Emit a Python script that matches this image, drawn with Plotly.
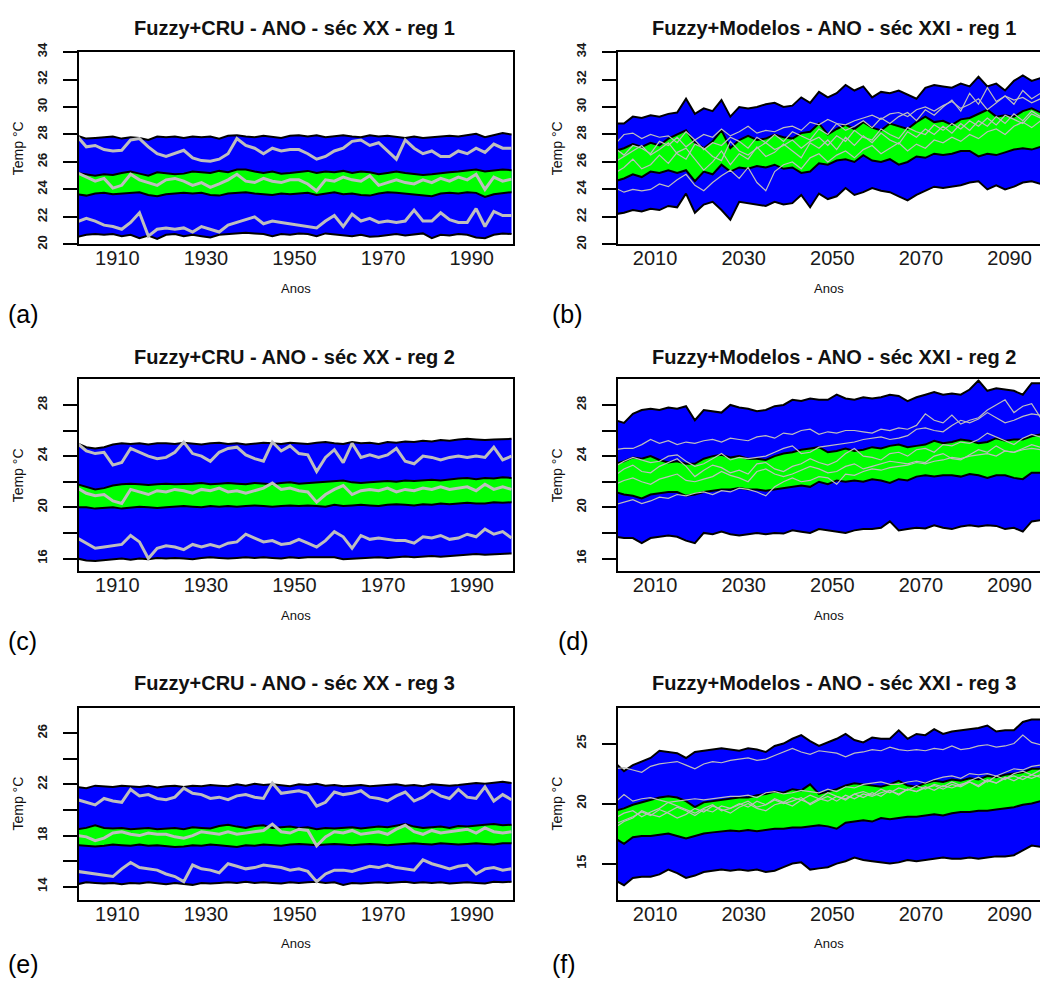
import plotly.graph_objects as go

# ---------------- data (2-year steps) ----------------
YEARS_20 = list(range(1901, 2000, 2))
YEARS_21 = list(range(2001, 2100, 2))

TICKS_20 = [1910, 1930, 1950, 1970, 1990]
TICKS_21 = [2010, 2030, 2050, 2070, 2090]

TITLES = ["Fuzzy+CRU - ANO - séc XX - reg 1", "Fuzzy+Modelos - ANO - séc XXI - reg 1",
          "Fuzzy+CRU - ANO - séc XX - reg 2", "Fuzzy+Modelos - ANO - séc XXI - reg 2",
          "Fuzzy+CRU - ANO - séc XX - reg 3", "Fuzzy+Modelos - ANO - séc XXI - reg 3"]
LETTERS = ["(a)", "(b)", "(c)", "(d)", "(e)", "(f)"]

# panel (a)
BU_a = [27.9, 27.7, 27.75, 27.8, 27.85, 27.7, 27.8, 27.75, 27.6, 27.85,
        27.8, 27.85, 27.75, 27.85, 27.8, 27.85, 27.7, 27.9, 27.95, 27.85,
        27.8, 27.9, 27.85, 27.75, 27.9, 27.95, 27.85, 27.95, 27.8, 27.9,
        27.95, 27.85, 27.8, 27.95, 27.85, 27.9, 27.8, 27.75, 27.85, 27.75,
        27.8, 27.85, 27.9, 27.85, 27.95, 28.05, 27.8, 27.95, 28.1, 28.0]
GU_a = [25.2, 25.1, 25.0, 25.1, 25.05, 25.2, 25.3, 25.15, 25.0, 25.25,
        25.2, 25.1, 25.15, 25.3, 25.25, 25.2, 25.35, 25.25, 25.45, 25.45,
        25.3, 25.2, 25.3, 25.15, 25.2, 25.3, 25.35, 25.2, 25.3, 25.25,
        25.35, 25.2, 25.3, 25.25, 25.1, 25.2, 25.3, 25.2, 25.1, 25.05,
        25.1, 25.2, 25.25, 25.3, 25.35, 25.45, 25.3, 25.4, 25.45, 25.4]
GL_a = [23.65, 23.55, 23.7, 23.75, 23.65, 23.7, 23.75, 23.8, 23.6, 23.5,
        23.65, 23.7, 23.75, 23.7, 23.75, 23.6, 23.55, 23.7, 23.75, 23.8,
        23.7, 23.65, 23.6, 23.7, 23.65, 23.7, 23.75, 23.6, 23.7, 23.8,
        23.65, 23.7, 23.6, 23.55, 23.7, 23.8, 23.75, 23.7, 23.65, 23.6,
        23.5, 23.7, 23.75, 23.7, 23.8, 23.75, 23.45, 23.65, 23.75, 23.8]
BL_a = [20.55, 20.7, 20.75, 20.7, 20.75, 20.6, 20.7, 20.45, 20.65, 20.4,
        20.7, 20.75, 20.6, 20.7, 20.6, 20.5, 20.7, 20.75, 20.8, 20.85,
        20.8, 20.75, 20.6, 20.75, 20.7, 20.8, 20.75, 20.6, 20.8, 20.75,
        20.7, 20.6, 20.7, 20.55, 20.6, 20.7, 20.75, 20.65, 20.7, 20.8,
        20.45, 20.7, 20.65, 20.75, 20.7, 20.5, 20.45, 20.7, 20.8, 20.75]
GY1_a = [27.85, 27.1, 27.2, 26.9, 26.8, 26.85, 27.6, 27.7, 27.1, 26.6,
         26.4, 26.6, 26.85, 26.3, 26.1, 26.05, 26.2, 26.6, 27.7, 27.2,
         27.0, 26.6, 27.0, 26.8, 26.9, 26.9, 26.6, 26.2, 26.4, 26.8,
         27.0, 27.5, 27.6, 27.2, 27.4, 26.8, 26.2, 27.6, 27.0, 26.6,
         26.8, 26.4, 26.4, 26.8, 26.6, 27.0, 26.7, 27.3, 27.0, 27.0]
GY2_a = [25.2, 24.9, 24.6, 24.8, 24.1, 24.3, 25.1, 24.7, 24.5, 24.3,
         24.7, 24.8, 24.6, 24.3, 24.5, 24.15, 24.4, 24.7, 25.1, 24.6,
         24.5, 24.8, 24.6, 24.5, 24.7, 24.7, 24.4, 23.9, 24.7, 24.6,
         24.9, 24.7, 24.6, 25.0, 24.3, 24.5, 24.7, 24.5, 24.4, 24.7,
         24.5, 24.8, 24.6, 24.9, 24.7, 25.1, 24.0, 24.9, 24.6, 24.75]
GY3_a = [21.65, 21.9, 21.7, 21.4, 21.3, 21.1, 21.6, 22.3, 20.6, 21.1,
         21.2, 21.1, 21.2, 20.9, 21.3, 21.1, 20.9, 21.4, 21.6, 21.8,
         22.0, 21.5, 21.7, 21.6, 21.5, 21.4, 21.3, 21.2, 21.7, 22.1,
         21.3, 22.2, 21.7, 21.9, 21.6, 21.7, 21.6, 21.7, 22.5, 21.7,
         21.7, 22.3, 21.8, 21.6, 21.6, 22.6, 21.3, 22.4, 22.1, 22.1]

# panel (c)
BU_c = [25.0, 24.7, 24.6, 24.7, 24.9, 25.0, 24.95, 25.0, 24.9, 25.0,
        25.0, 24.95, 25.05, 25.0, 24.9, 25.0, 25.05, 24.95, 25.0, 24.9,
        25.0, 25.05, 25.0, 24.95, 25.05, 25.0, 24.95, 25.05, 25.1, 25.0,
        24.95, 25.1, 25.0, 25.05, 24.95, 25.1, 25.05, 25.15, 25.1, 25.2,
        25.15, 25.25, 25.2, 25.3, 25.35, 25.3, 25.25, 25.3, 25.35, 25.35]
GU_c = [21.8, 21.6, 21.4, 21.5, 21.7, 21.8, 21.85, 21.8, 21.75, 21.8,
        21.85, 21.8, 21.8, 21.85, 21.9, 21.8, 21.85, 21.9, 21.85, 21.8,
        21.9, 21.85, 21.8, 21.9, 21.95, 21.85, 21.9, 21.95, 22.0, 22.05,
        22.1, 21.95, 21.9, 21.95, 22.0, 22.05, 22.0, 22.1, 22.05, 22.1,
        22.15, 22.1, 22.2, 22.25, 22.3, 22.2, 22.3, 22.25, 22.35, 22.3]
GL_c = [20.0, 20.0, 19.9, 19.95, 20.0, 19.9, 20.0, 20.05, 20.0, 19.95,
        20.0, 20.05, 20.1, 20.05, 20.0, 20.1, 20.05, 20.1, 20.05, 20.1,
        20.15, 20.1, 20.05, 20.1, 20.15, 20.1, 20.15, 20.1, 20.05, 20.2,
        20.1, 20.15, 20.2, 20.15, 20.1, 20.2, 20.25, 20.2, 20.15, 20.25,
        20.2, 20.3, 20.25, 20.3, 20.35, 20.3, 20.3, 20.4, 20.35, 20.4]
BL_c = [16.0, 15.85, 15.8, 15.85, 15.95, 16.0, 15.9, 16.0, 15.95, 16.05,
        16.0, 16.05, 16.0, 15.95, 16.05, 16.1, 16.05, 16.0, 16.05, 16.1,
        16.05, 16.1, 16.05, 16.0, 16.1, 16.05, 16.1, 16.1, 16.05, 16.1,
        15.95, 16.0, 16.05, 16.1, 16.1, 16.05, 16.1, 16.15, 16.1, 16.15,
        16.2, 16.15, 16.2, 16.25, 16.3, 16.35, 16.3, 16.35, 16.4, 16.4]
GY1_c = [25.0, 24.4, 24.2, 24.3, 23.3, 23.5, 24.6, 24.3, 24.0, 23.8,
         23.9, 24.3, 25.1, 24.2, 24.0, 23.6, 24.3, 24.6, 24.7, 24.1,
         23.8, 23.6, 25.1, 24.4, 24.8, 24.2, 24.1, 22.8, 23.9, 24.5,
         23.5, 25.0, 23.9, 24.1, 23.9, 24.1, 24.6, 23.6, 23.4, 24.0,
         23.9, 23.7, 23.9, 24.0, 23.9, 24.0, 23.9, 24.7, 23.7, 24.0]
GY2_c = [21.5, 21.1, 20.9, 21.0, 20.5, 20.3, 21.4, 21.2, 21.0, 21.3,
         21.2, 21.4, 21.3, 21.1, 21.4, 21.3, 21.5, 21.2, 21.3, 21.1,
         21.3, 21.5, 21.9, 21.4, 21.5, 21.3, 21.2, 20.4, 21.0, 21.4,
         21.7, 21.0, 21.3, 21.4, 21.3, 21.5, 21.2, 21.4, 21.3, 21.5,
         21.4, 21.6, 21.4, 21.5, 21.6, 21.3, 21.8, 21.4, 21.6, 21.4]
GY3_c = [17.6, 17.2, 16.8, 16.9, 17.0, 17.1, 17.8, 17.3, 16.0, 16.8,
         17.0, 16.9, 16.7, 17.1, 16.9, 17.1, 16.9, 17.2, 17.3, 17.9,
         17.6, 17.3, 17.4, 17.1, 17.2, 17.5, 17.2, 16.9, 17.4, 18.1,
         17.7, 16.8, 17.8, 17.5, 17.6, 17.5, 17.4, 17.4, 17.2, 17.7,
         17.6, 17.8, 17.5, 17.6, 17.9, 17.7, 18.3, 17.9, 18.1, 17.6]

# panel (e)
BU_e = [21.8, 21.7, 21.9, 21.85, 21.8, 21.9, 21.85, 21.8, 21.9, 21.75,
        21.85, 21.9, 21.8, 21.9, 21.85, 21.95, 21.9, 21.85, 22.0, 21.9,
        22.05, 21.95, 22.0, 21.9, 21.85, 22.0, 21.95, 22.05, 21.9, 21.95,
        21.85, 21.9, 21.95, 21.85, 21.9, 21.95, 22.0, 21.9, 21.95, 21.85,
        22.0, 21.95, 21.9, 21.95, 22.0, 22.1, 22.05, 22.15, 22.2, 22.1]
GU_e = [18.5, 18.6, 18.8, 18.6, 18.55, 18.6, 18.5, 18.55, 18.6, 18.5,
        18.55, 18.6, 18.5, 18.65, 18.6, 18.55, 18.75, 18.85, 18.7, 18.6,
        18.75, 18.8, 18.6, 18.65, 18.7, 18.6, 18.65, 18.5, 18.6, 18.55,
        18.6, 18.65, 18.55, 18.6, 18.7, 18.65, 18.8, 18.9, 18.7, 18.6,
        18.65, 18.7, 18.6, 18.75, 18.7, 18.8, 18.85, 18.9, 18.8, 18.85]
GL_e = [17.25, 17.2, 17.15, 17.2, 17.3, 17.25, 17.2, 17.3, 17.2, 17.25,
        17.2, 17.1, 17.15, 17.25, 17.2, 17.3, 17.25, 17.2, 17.1, 17.25,
        17.2, 17.3, 17.25, 17.2, 17.3, 17.35, 17.3, 17.25, 17.3, 17.35,
        17.3, 17.25, 17.3, 17.35, 17.3, 17.25, 17.3, 17.35, 17.4, 17.35,
        17.3, 17.4, 17.35, 17.3, 17.35, 17.4, 17.35, 17.3, 17.4, 17.4]
BL_e = [14.2, 14.35, 14.3, 14.25, 14.3, 14.2, 14.3, 14.25, 14.35, 14.3,
        14.2, 14.3, 14.25, 14.15, 14.3, 14.25, 14.3, 14.35, 14.3, 14.4,
        14.3, 14.35, 14.3, 14.25, 14.35, 14.3, 14.35, 14.4, 14.3, 14.35,
        14.15, 14.3, 14.25, 14.3, 14.35, 14.3, 14.35, 14.4, 14.3, 14.35,
        14.3, 14.35, 14.25, 14.3, 14.35, 14.3, 14.25, 14.4, 14.35, 14.4]
GY1_e = [20.8, 20.6, 20.4, 20.9, 20.7, 20.6, 21.6, 21.1, 21.2, 20.9,
         20.8, 21.0, 21.7, 21.3, 21.2, 20.9, 21.0, 20.8, 21.1, 21.2,
         21.0, 20.9, 22.1, 21.3, 21.4, 21.5, 21.3, 20.3, 20.6, 21.4,
         21.2, 21.3, 21.5, 21.0, 20.9, 20.7, 21.1, 21.4, 20.7, 21.0,
         21.5, 21.1, 20.9, 21.6, 21.0, 20.9, 21.8, 20.7, 21.2, 20.8]
GY2_e = [18.0, 17.9, 17.6, 17.8, 18.2, 18.3, 18.1, 18.0, 18.2, 18.1,
         18.1, 17.9, 17.8, 18.0, 18.3, 18.2, 18.1, 18.3, 18.1, 18.2,
         18.3, 18.4, 18.9, 18.3, 18.2, 18.5, 18.4, 17.2, 17.9, 18.3,
         18.2, 18.4, 18.1, 18.2, 18.3, 18.1, 18.5, 18.8, 18.3, 18.1,
         18.4, 18.2, 18.3, 18.4, 18.5, 18.2, 18.6, 18.3, 18.2, 18.3]
GY3_e = [15.2, 15.1, 15.0, 14.9, 14.8, 15.4, 15.9, 15.5, 15.4, 15.3,
         15.0, 14.8, 14.4, 15.7, 15.4, 15.3, 15.1, 15.8, 15.6, 15.4,
         15.5, 15.7, 15.6, 15.5, 15.3, 15.4, 15.2, 14.4, 15.0, 15.3,
         15.3, 15.2, 15.4, 15.6, 15.5, 15.7, 15.5, 15.4, 15.3, 16.1,
         15.8, 15.6, 15.4, 15.6, 15.7, 15.0, 15.4, 15.5, 15.3, 15.4]

# panel (b)
BU_b = [28.8, 28.8, 29.3, 29.2, 29.4, 29.3, 29.5, 29.6, 30.6, 29.5,
        29.9, 29.7, 30.5, 29.3, 30.0, 29.9, 30.0, 30.2, 30.3, 30.0,
        30.1, 30.7, 30.3, 31.1, 30.7, 31.0, 31.6, 31.2, 31.5, 30.7,
        31.1, 31.0, 31.2, 30.9, 30.6, 31.4, 31.6, 31.5, 31.4, 31.7,
        31.5, 32.2, 31.5, 31.7, 31.2, 31.9, 32.3, 31.9, 32.1, 32.0]
GU_b = [26.8, 27.0, 27.3, 27.1, 27.4, 27.2, 27.7, 28.0, 28.3, 27.4,
        27.0, 27.5, 28.3, 27.0, 27.6, 27.9, 27.6, 27.7, 28.0, 27.8,
        27.7, 28.1, 28.2, 28.8, 28.0, 28.4, 28.7, 28.4, 28.9, 28.5,
        28.3, 28.8, 28.6, 28.4, 28.9, 29.3, 28.9, 29.0, 28.7, 29.1,
        29.2, 29.5, 29.8, 29.3, 29.4, 29.3, 29.7, 29.9, 29.6, 29.7]
GL_b = [24.6, 24.8, 25.1, 24.9, 25.3, 25.2, 25.4, 25.2, 25.4, 24.6,
        25.3, 25.1, 25.8, 25.3, 25.6, 25.5, 25.7, 25.6, 25.8, 25.5,
        25.6, 25.2, 25.3, 25.9, 25.8, 26.1, 26.2, 26.0, 26.5, 26.1,
        26.0, 26.2, 25.8, 26.0, 26.4, 26.3, 26.6, 26.5, 26.6, 26.8,
        26.8, 26.4, 26.6, 26.5, 26.7, 26.9, 27.0, 26.9, 27.1, 27.0]
BL_b = [22.2, 22.3, 22.5, 22.4, 22.6, 22.5, 22.8, 22.7, 23.7, 22.3,
        22.9, 23.1, 22.5, 21.8, 23.1, 23.0, 22.9, 22.8, 23.1, 22.9,
        23.0, 23.6, 22.7, 23.7, 23.3, 23.5, 24.1, 23.6, 23.8, 24.1,
        23.9, 23.8, 23.5, 23.2, 23.6, 23.9, 24.2, 24.1, 24.2, 24.3,
        24.5, 24.6, 24.0, 24.3, 24.0, 24.2, 24.5, 24.6, 24.4, 24.5]
G1_b = [27.3, 28.0, 28.1, 27.7, 28.0, 27.8, 27.9, 27.4, 28.2, 27.6,
        28.0, 27.8, 28.4, 27.9, 28.2, 28.6, 28.1, 28.3, 28.2, 28.5,
        28.6, 28.3, 28.9, 28.7, 29.1, 28.8, 28.7, 29.0, 29.2, 29.4,
        29.1, 29.5, 29.6, 29.3, 29.8, 30.0, 29.7, 30.1, 30.4, 29.9,
        30.2, 30.6, 29.8, 30.3, 30.8, 30.5, 30.7, 30.3, 30.6, 30.4]
G2_b = [24.1, 23.8, 24.0, 23.9, 24.0, 24.4, 24.2, 24.7, 25.1, 24.3,
        23.9, 24.5, 25.0, 25.4, 24.8, 25.6, 24.5, 23.9, 25.3, 25.8,
        26.0, 25.5, 26.3, 26.6, 26.0, 26.5, 26.8, 26.3, 26.9, 27.2,
        26.6, 27.0, 27.4, 26.8, 27.3, 27.0, 27.6, 27.4, 27.8, 27.5,
        28.0, 27.7, 28.2, 28.4, 28.0, 28.6, 28.9, 28.5, 29.0, 28.8]
G3_b = [26.0, 26.4, 26.8, 27.2, 26.5, 26.9, 27.4, 26.6, 26.2, 27.3,
        27.0, 26.4, 26.1, 27.5, 26.8, 26.5, 27.0, 27.4, 26.9, 27.2,
        27.6, 27.0, 27.5, 27.8, 27.2, 27.9, 27.5, 28.3, 27.8, 27.6,
        28.4, 28.0, 27.7, 28.5, 28.2, 28.0, 28.7, 28.3, 28.8, 28.4,
        29.0, 28.6, 29.2, 28.7, 29.4, 29.1, 28.8, 29.5, 29.2, 29.6]
G4_b = [25.2, 25.6, 26.2, 25.5, 25.8, 26.5, 25.9, 26.7, 27.0, 26.2,
        25.4, 26.0, 26.8, 25.8, 26.6, 26.2, 27.1, 26.4, 26.7, 27.3,
        26.8, 26.3, 27.4, 27.0, 27.6, 26.9, 27.8, 27.2, 27.9, 27.4,
        28.1, 27.6, 27.3, 28.2, 27.8, 28.4, 28.0, 28.6, 28.1, 28.8,
        28.3, 29.0, 28.6, 29.3, 28.8, 29.5, 29.0, 29.7, 29.3, 29.8]
G5_b = [27.0, 26.5, 27.2, 27.0, 26.6, 27.5, 27.2, 27.8, 27.1, 27.6,
        26.9, 27.4, 27.2, 27.8, 27.5, 27.0, 27.8, 27.4, 28.0, 27.5,
        28.2, 27.9, 27.6, 28.4, 28.0, 28.8, 28.3, 28.6, 29.0, 28.5,
        29.2, 28.8, 29.3, 29.6, 29.0, 29.8, 29.4, 30.0, 30.5, 29.7,
        31.0, 30.2, 31.4, 30.4, 30.8, 30.2, 31.2, 30.6, 31.0, 30.7]

# panel (d)
BU_d = [26.8, 26.6, 27.3, 27.6, 27.7, 27.6, 27.8, 27.7, 27.9, 26.8,
        27.6, 27.5, 27.4, 28.0, 27.8, 27.7, 27.5, 27.6, 27.9, 28.0,
        28.4, 28.3, 28.5, 28.4, 28.4, 28.8, 28.5, 28.4, 28.6, 28.5,
        28.6, 28.8, 28.7, 28.3, 28.6, 28.8, 29.0, 28.8, 28.9, 28.8,
        29.2, 29.9, 29.1, 29.3, 29.2, 29.1, 28.8, 29.7, 29.7, 29.6]
GU_d = [23.4, 23.6, 23.9, 23.8, 24.0, 23.7, 23.5, 23.6, 23.4, 23.4,
        23.8, 24.0, 24.1, 23.9, 24.0, 23.8, 23.8, 23.7, 24.0, 24.2,
        24.3, 24.5, 24.6, 24.7, 24.3, 24.4, 24.6, 24.4, 24.5, 24.7,
        24.6, 24.8, 24.9, 24.7, 24.8, 24.9, 25.2, 25.0, 25.1, 25.3,
        25.2, 25.0, 25.1, 25.4, 25.2, 25.3, 25.3, 25.55, 25.7, 25.6]
GL_d = [21.2, 21.0, 20.9, 20.7, 21.0, 21.1, 21.2, 21.2, 20.9, 21.0,
        21.2, 21.3, 21.4, 21.4, 21.5, 21.4, 21.4, 21.3, 21.4, 21.5,
        21.6, 21.7, 21.6, 22.0, 21.8, 22.1, 22.0, 22.1, 22.0, 22.2,
        22.1, 21.9, 22.2, 22.1, 22.4, 22.5, 22.4, 22.5, 22.5, 22.4,
        22.6, 22.5, 22.3, 22.5, 22.5, 22.3, 22.2, 22.7, 22.7, 22.6]
BL_d = [17.7, 17.6, 17.6, 17.2, 17.6, 17.7, 17.8, 17.7, 17.4, 17.2,
        18.0, 17.9, 18.1, 17.9, 17.8, 17.9, 18.0, 17.9, 18.0, 17.95,
        18.2, 18.1, 18.0, 18.3, 18.2, 18.1, 18.0, 18.2, 18.3, 18.3,
        18.4, 18.9, 18.2, 18.3, 18.4, 18.35, 18.6, 18.4, 18.3, 18.5,
        18.6, 18.5, 18.6, 18.55, 18.3, 18.4, 18.1, 18.9, 19.0, 18.95]
GA_d = [24.5, 24.6, 24.6, 24.9, 25.3, 25.0, 25.2, 24.9, 25.1, 25.0,
        25.2, 25.3, 25.1, 25.4, 25.3, 25.2, 25.5, 25.6, 25.4, 25.8,
        25.7, 26.0, 26.1, 25.7, 25.9, 25.8, 26.0, 26.0, 25.9, 25.8,
        26.1, 26.0, 26.2, 26.1, 26.4, 27.3, 26.8, 26.6, 27.2, 26.5,
        26.8, 27.0, 27.6, 28.0, 28.4, 27.4, 27.9, 28.1, 27.0, 26.9]
GB_d = [20.2, 20.4, 20.6, 20.3, 20.5, 20.8, 20.7, 21.0, 20.9, 21.1,
        21.2, 21.0, 21.3, 21.2, 21.5, 21.4, 21.2, 20.9, 21.6, 22.0,
        22.3, 22.0, 22.1, 22.4, 22.3, 21.8, 22.6, 22.5, 22.8, 23.0,
        22.9, 23.1, 23.2, 23.3, 23.5, 23.4, 23.6, 23.7, 23.9, 23.8,
        24.0, 24.1, 24.2, 24.0, 24.4, 24.3, 24.5, 24.6, 24.5, 24.7]
GC_d = [22.5, 23.0, 23.3, 22.8, 22.7, 23.2, 23.5, 23.8, 23.2, 22.4,
        22.9, 23.3, 23.1, 22.7, 22.9, 22.6, 23.4, 23.5, 23.0, 22.8,
        23.2, 23.4, 23.8, 23.5, 23.3, 23.6, 24.2, 24.6, 24.0, 23.9,
        23.7, 24.2, 24.3, 24.0, 24.5, 24.6, 24.3, 24.9, 24.8, 25.1,
        25.0, 25.3, 25.8, 25.5, 25.2, 24.9, 25.4, 25.7, 25.5, 25.6]
GD_d = [21.8, 22.1, 22.3, 22.0, 21.8, 22.2, 22.4, 22.6, 22.1, 22.0,
        22.2, 22.4, 22.8, 22.5, 22.3, 22.0, 22.8, 23.0, 22.6, 22.4,
        22.6, 22.9, 23.2, 23.0, 22.7, 22.8, 23.2, 23.4, 23.0, 23.2,
        23.4, 23.6, 23.5, 23.4, 23.6, 23.5, 24.0, 24.2, 23.8, 23.7,
        24.1, 24.5, 24.3, 24.8, 24.4, 24.3, 24.6, 24.9, 24.7, 24.8]
GE_d = [23.2, 23.6, 23.9, 23.7, 23.5, 23.6, 24.0, 24.1, 23.6, 23.2,
        23.4, 23.8, 24.2, 23.7, 23.9, 23.8, 23.9, 24.0, 24.3, 24.6,
        24.8, 24.2, 24.3, 24.7, 24.8, 24.9, 25.0, 25.1, 25.3, 25.4,
        25.5, 25.3, 25.4, 25.6, 26.1, 26.2, 26.0, 25.9, 26.4, 26.8,
        26.6, 26.9, 27.4, 27.0, 26.6, 26.8, 27.1, 27.3, 27.2, 27.0]

# panel (f)
BU_f = [23.4, 22.7, 23.2, 23.5, 23.8, 24.4, 24.3, 24.2, 23.8, 24.3,
        24.4, 24.5, 24.6, 24.5, 24.4, 24.6, 24.5, 24.3, 24.8, 25.0,
        25.4, 25.7, 25.2, 24.8, 25.1, 25.4, 25.8, 25.3, 25.1, 25.5,
        25.4, 25.4, 26.1, 25.4, 25.8, 25.7, 26.2, 25.8, 26.0, 26.1,
        26.2, 26.3, 26.5, 26.0, 26.1, 26.1, 26.8, 27.0, 27.0, 26.9]
GU_f = [19.4, 19.6, 19.9, 20.1, 20.3, 20.5, 20.6, 20.5, 20.2, 19.7,
        20.1, 20.2, 20.3, 20.4, 20.5, 20.5, 20.7, 20.8, 21.0, 20.9,
        21.2, 21.1, 21.6, 20.8, 21.0, 21.2, 21.5, 21.7, 21.6, 21.5,
        21.4, 21.6, 21.9, 21.5, 21.4, 21.7, 21.9, 21.8, 22.0, 21.9,
        22.1, 22.0, 22.3, 22.2, 22.4, 22.5, 22.6, 22.9, 22.9, 22.8]
GL_f = [17.1, 16.65, 17.2, 17.3, 17.3, 17.4, 17.5, 17.3, 17.1, 17.3,
        17.5, 17.6, 17.7, 17.75, 17.7, 17.8, 17.7, 17.8, 17.9, 17.9,
        18.0, 18.0, 18.1, 18.2, 18.1, 17.9, 18.4, 18.5, 18.6, 18.5,
        18.8, 18.7, 18.8, 18.9, 18.9, 19.0, 19.1, 19.0, 19.2, 19.3,
        19.3, 19.4, 19.4, 19.5, 19.6, 19.7, 19.9, 20.0, 20.2, 20.2]
BL_f = [13.6, 13.2, 13.8, 13.9, 13.9, 14.1, 14.5, 14.2, 13.8, 14.0,
        14.3, 14.4, 14.5, 14.4, 14.5, 14.4, 14.5, 14.3, 14.4, 14.7,
        15.0, 15.1, 14.5, 14.6, 14.7, 15.0, 15.2, 15.5, 15.3, 15.2,
        15.1, 15.0, 15.1, 15.3, 15.2, 15.3, 15.4, 15.5, 15.4, 15.4,
        15.5, 15.4, 15.5, 15.6, 15.6, 15.7, 16.1, 16.5, 16.4, 16.4]
GA_f = [22.9, 23.0, 22.8, 22.6, 23.1, 23.3, 23.4, 23.5, 23.2, 22.9,
        23.3, 23.5, 23.4, 23.6, 23.7, 23.8, 23.6, 23.7, 24.0, 24.3,
        24.6, 24.3, 24.1, 24.4, 24.3, 24.2, 23.9, 24.2, 24.3, 24.5,
        24.4, 24.7, 24.5, 24.4, 24.5, 24.4, 24.6, 24.5, 24.8, 24.5,
        24.6, 24.8, 24.9, 24.7, 24.8, 25.0, 25.7, 25.1, 24.9, 24.9]
GB_f = [20.1, 20.75, 20.2, 20.4, 20.5, 20.3, 20.1, 20.2, 20.3, 20.4,
        20.3, 20.4, 20.5, 20.6, 20.6, 20.7, 20.5, 20.9, 21.0, 20.8,
        20.9, 21.1, 21.0, 20.9, 21.2, 21.0, 21.4, 21.3, 21.6, 21.7,
        21.8, 21.6, 21.6, 21.8, 21.9, 21.7, 22.0, 22.2, 22.3, 22.1,
        22.5, 22.4, 22.5, 22.3, 22.6, 22.9, 22.8, 23.1, 23.2, 23.0]
GC_f = [18.8, 19.2, 19.4, 18.9, 19.3, 19.6, 20.1, 19.8, 19.5, 19.2,
        19.6, 19.9, 19.4, 19.6, 19.9, 20.2, 19.7, 19.9, 20.3, 20.0,
        20.2, 20.5, 19.9, 20.3, 20.6, 20.2, 20.7, 20.4, 20.8, 20.6,
        20.9, 21.1, 20.7, 21.2, 21.0, 21.4, 21.1, 21.5, 21.3, 21.6,
        21.8, 21.4, 21.9, 21.7, 22.1, 22.3, 22.0, 22.4, 22.2, 22.5]
GD_f = [18.3, 18.6, 18.9, 19.3, 19.0, 19.5, 19.2, 18.8, 19.1, 19.6,
        19.3, 19.8, 19.5, 19.2, 19.7, 20.0, 19.6, 19.4, 19.9, 20.1,
        19.8, 20.3, 20.0, 20.4, 20.2, 20.6, 20.3, 20.8, 20.5, 20.9,
        20.6, 21.1, 20.8, 21.2, 21.0, 21.3, 21.5, 21.2, 21.6, 21.4,
        21.8, 21.5, 22.0, 21.7, 22.2, 21.9, 22.3, 22.1, 22.4, 22.2]
GE_f = [18.0, 18.5, 18.8, 19.4, 19.1, 18.9, 19.3, 19.7, 19.4, 19.0,
        19.5, 19.3, 19.8, 19.6, 20.0, 19.7, 20.2, 19.9, 20.4, 20.1,
        20.5, 20.3, 20.7, 20.4, 20.9, 20.6, 20.4, 20.8, 21.0, 20.7,
        21.2, 20.9, 21.3, 21.1, 21.5, 21.2, 21.6, 21.4, 21.8, 21.5,
        21.9, 22.2, 21.8, 22.3, 22.0, 22.5, 22.7, 22.4, 22.8, 22.6]

# y axis ranges and ticks per panel
YRANGE = [[20, 34], [20, 34], [15, 30], [15, 30], [13, 28], [12, 28]]
YTICKS = [[20, 22, 24, 26, 28, 30, 32, 34], [20, 22, 24, 26, 28, 30, 32, 34],
          [16, 18, 20, 22, 24, 26, 28], [16, 18, 20, 22, 24, 26, 28],
          [14, 16, 18, 20, 22, 24, 26], [15, 20, 25]]
YTICKTEXT = [["20", "22", "24", "26", "28", "30", "32", "34"],
             ["20", "22", "24", "26", "28", "30", "32", "34"],
             ["16", "", "20", "", "24", "", "28"],
             ["16", "", "20", "", "24", "", "28"],
             ["14", "", "18", "", "22", "", "26"],
             ["15", "20", "25"]]

PANELS = [
    dict(years=YEARS_20, bands=(BL_a, BU_a, GL_a, GU_a), grays=[GY1_a, GY2_a, GY3_a]),
    dict(years=YEARS_21, bands=(BL_b, BU_b, GL_b, GU_b), grays=[G1_b, G2_b, G3_b, G4_b, G5_b]),
    dict(years=YEARS_20, bands=(BL_c, BU_c, GL_c, GU_c), grays=[GY1_c, GY2_c, GY3_c]),
    dict(years=YEARS_21, bands=(BL_d, BU_d, GL_d, GU_d), grays=[GA_d, GB_d, GC_d, GD_d, GE_d]),
    dict(years=YEARS_20, bands=(BL_e, BU_e, GL_e, GU_e), grays=[GY1_e, GY2_e, GY3_e]),
    dict(years=YEARS_21, bands=(BL_f, BU_f, GL_f, GU_f), grays=[GA_f, GB_f, GC_f, GD_f, GE_f]),
]

# ---------------- layout geometry (pixels) ----------------
W, H = 1040, 988
FONT = "Liberation Sans, Arial, sans-serif"
COLS = [dict(x0=79.0, x1=513.3, xrange=[1901.35, 1999.4], xticks=TICKS_20, mirror_y=True,
             title_x=294, ylab_x=18, letter_x=6),
        dict(x0=617.7, x1=1040.0, xrange=[2001.58, 2096.88], xticks=TICKS_21, mirror_y=False,
             title_x=834, ylab_x=557, letter_x=550)]
ROWS = [dict(y0=42.7, y1=238.0, title_y=18.5, letter_y=309),
        dict(y0=375.0, y1=570.0, title_y=352, letter_y=641),
        dict(y0=708.3, y1=903.3, title_y=683, letter_y=969)]
LETTER_DX = [0, 0, 0, 6, 0, 0]

BLUE, GREEN, GRAY = "#0000FF", "#00FF00", "#BEBEBE"

fig = go.Figure()
layout = dict(width=W, height=H, margin=dict(l=0, r=0, t=0, b=0),
              paper_bgcolor="white", plot_bgcolor="white", showlegend=False,
              hovermode=False, annotations=[])


def px(x):
    return x / W


def py(y):
    return 1 - y / H


for i, p in enumerate(PANELS):
    n = i + 1
    r, c = divmod(i, 2)
    col, row = COLS[c], ROWS[r]
    xa, ya = f"x{n}", f"y{n}"
    yrs = p["years"]
    for arr in list(p["bands"]) + p["grays"]:
        assert len(arr) == len(yrs)
    bl, bu, gl, gu = p["bands"]
    fig.add_trace(go.Scatter(x=yrs, y=bl, mode="lines", line=dict(color="black", width=2),
                             xaxis=xa, yaxis=ya))
    fig.add_trace(go.Scatter(x=yrs, y=bu, mode="lines", line=dict(color="black", width=2),
                             fill="tonexty", fillcolor=BLUE, xaxis=xa, yaxis=ya))
    fig.add_trace(go.Scatter(x=yrs, y=gl, mode="lines", line=dict(color="black", width=2),
                             xaxis=xa, yaxis=ya))
    fig.add_trace(go.Scatter(x=yrs, y=gu, mode="lines", line=dict(color="black", width=2),
                             fill="tonexty", fillcolor=GREEN, xaxis=xa, yaxis=ya))
    gw = 3 if c == 0 else 1.2
    for g in p["grays"]:
        fig.add_trace(go.Scatter(x=yrs, y=g, mode="lines", line=dict(color=GRAY, width=gw),
                                 xaxis=xa, yaxis=ya))

    sfx = "" if n == 1 else str(n)
    layout["xaxis" + sfx] = dict(
        domain=[px(col["x0"]), px(col["x1"])], anchor=ya, range=col["xrange"],
        showgrid=False, zeroline=False, showline=True, linecolor="black", linewidth=2,
        mirror=True, ticks="", tickvals=col["xticks"], ticklabelstandoff=-5,
        tickfont=dict(family=FONT, size=20, color="#1a1a1a"))
    layout["yaxis" + sfx] = dict(
        domain=[py(row["y1"]), py(row["y0"])], anchor=xa, range=YRANGE[i],
        showgrid=False, zeroline=False, showline=True, linecolor="black", linewidth=2,
        mirror=col["mirror_y"], ticks="outside", ticklen=14, tickwidth=2, tickcolor="black",
        tickvals=YTICKS[i], ticktext=YTICKTEXT[i], tickangle=-90, ticklabelstandoff=11,
        tickfont=dict(family=FONT, size=13, color="#1a1a1a", weight="bold"))

    ann = layout["annotations"]
    ann.append(dict(x=px(col["title_x"]), y=py(row["title_y"]), xref="paper", yref="paper",
                    text="<b>" + TITLES[i] + "</b>", showarrow=False, xanchor="center",
                    yanchor="middle", font=dict(family=FONT, size=20, color="#111111")))
    ann.append(dict(x=px((col["x0"] + min(col["x1"], col["x0"] + 434.3)) / 2),
                    y=py(row["y1"] + 44.7), xref="paper", yref="paper", text="Anos",
                    showarrow=False, xanchor="center", yanchor="middle",
                    font=dict(family=FONT, size=13, color="#111111")))
    ann.append(dict(x=px(col["ylab_x"]), y=py((row["y0"] + row["y1"]) / 2), xref="paper",
                    yref="paper", text="Temp °C", textangle=-90, showarrow=False,
                    xanchor="center", yanchor="middle",
                    font=dict(family=FONT, size=14, color="#111111")))
    ann.append(dict(x=px(col["letter_x"] + LETTER_DX[i]), y=py(row["letter_y"]), xref="paper",
                    yref="paper", text=LETTERS[i], showarrow=False, xanchor="left",
                    yanchor="middle", font=dict(family=FONT, size=25, color="black")))

fig.update_layout(**layout)
fig.write_html("out.html")
